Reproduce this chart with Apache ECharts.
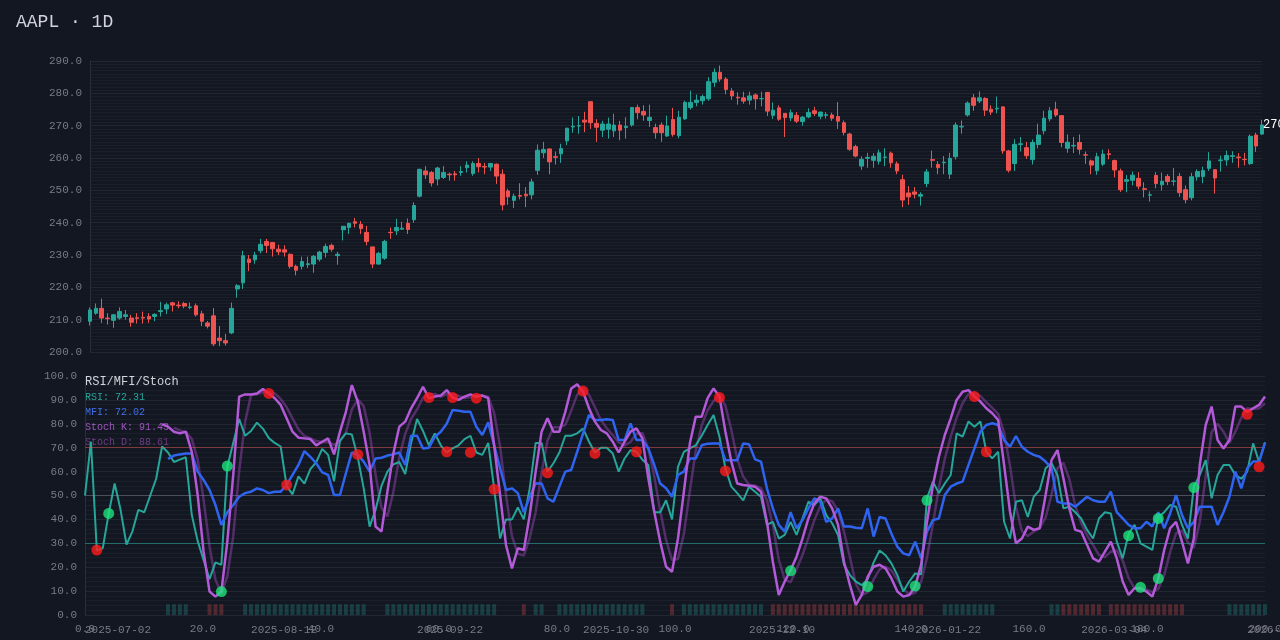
<!DOCTYPE html>
<html><head><meta charset="utf-8">
<script src="https://cdn.jsdelivr.net/npm/echarts@6/dist/echarts.min.js"></script>
<style>html,body{margin:0;padding:0;background:#131722}#c{width:1280px;height:640px}</style>
</head><body><div id="c"></div>
<script>
// [open, close, low, high]
const candles = [
[209.5,213,208.2,213.8],[212,213.5,211.5,215],[213.5,210.5,209,216.5],[210.5,210.3,208.5,212],[209.8,211.5,207.5,211.7],
[210.5,212.5,210,213.8],[211,211.5,210,213],[210.5,209.2,207.8,211.5],[210.6,210.4,208.8,212],[210.7,210.5,208.8,212.5],
[211,210.2,209,212],[211,211.6,209.5,212],[212.5,212.8,211,215.5],[213.3,214.6,211.7,215.3],[215.2,214.5,212.5,215.5],
[214.5,214.3,213.5,215.7],[215,214.2,213.5,215.5],[213.8,213.9,213.2,215.3],[214.3,211.5,211,215],[211.8,209.5,208,212.7],
[209,208,207.3,209.6],[211.2,202.5,201.8,213.6],[204.3,203.5,201.8,208],[203.5,202.8,202,205.6],[205.9,213.5,205.5,215.3],
[219.5,220.5,216.8,221],[221.4,229.8,219.5,231.3],[228.7,227.7,225,230],[228.5,230,227.3,231],[231.3,233.3,230.5,235],
[234.2,232.9,230.6,235],[233.9,231.9,229.5,234],[231.8,231,230,233.2],[231.6,230.9,229.5,233],[230.2,226.5,225.8,230.5],
[226.5,225.3,223.7,227],[226.5,228,225.5,229.5],[227,227.3,226,229.5],[227.2,229.6,224.5,230],[228.7,230.9,228,231.3],
[230.8,232.6,229.2,233.5],[233,231.8,231,233.5],[229.8,230.2,227,231],[237.8,238.9,234.5,238.9],[238.5,239.8,236.5,240],
[240.3,239.8,238.5,241.5],[239.5,238.2,236.5,240.5],[237,234.2,233,239],[232.5,227.2,226,232.5],[227.2,230.5,227,231],
[229,234.2,228.5,234.7],[237,236.9,235,238.5],[237.5,238.5,236.2,241.2],[238,238.3,237.8,240.3],[239.8,237.9,236.5,241.3],
[240.9,245.3,240,246.3],[248.2,256.5,247.8,256.7],[256,254.8,253.5,257.5],[255.5,252.3,251.2,256],[253.5,256.9,251.5,257.3],
[254,255.5,253.5,257.5],[255,254.8,253,255.5],[255.1,254.8,253,256],[255.5,255.8,254.5,257.5],[257,257.8,255.5,259],
[255.2,258.3,254.5,259],[258.3,257.3,255.5,260],[257.4,257.2,255,258.5],[257.2,258.3,256,258.5],[258.1,254.4,252,258.3],
[255,245.5,243.8,256.5],[249.8,248,245.5,250.5],[246.9,248.2,244.5,249],[248.4,248.2,247.2,252.2],[248.8,248.3,244.8,251],
[248.6,252.6,247.2,253.6],[256.2,262.4,254.8,264.2],[261.6,262.6,260,265],[262.8,258.8,255,262.9],[260.4,260.2,258,262],
[261.3,262.9,258.5,264.4],[265.3,269.2,264,269.4],[269.6,269.8,267.8,272.5],[269.9,270,267.5,273],[271.7,271.1,268,274.3],
[277.4,270.9,269,277.6],[270.7,269.5,265,272],[268.6,270.5,266.5,271.5],[268.9,270.5,266,272.5],[268.4,270.2,266.5,273.7],
[270.2,268.6,265.5,271.5],[269.4,269.8,266,272.6],[270.2,275.6,269.7,275.6],[275.6,274,272,276.5],[274.4,273.3,271.5,276.3],
[271.6,272.6,269.6,276.5],[269.4,267.8,266,270.6],[270.2,267.8,265,271],[266.8,269.9,266.5,273.1],[271.9,267.3,266.6,275.5],
[266.9,272.6,266.1,274.6],[272.1,277.2,271.8,277.7],[275.6,277.2,275,280.8],[277.2,277.9,276,279.6],[277.7,279,276.5,279.6],
[278.3,283.6,277.7,285],[283.4,286.5,282,287.7],[286.5,284.4,283.6,288.6],[284.4,281.2,279.7,285],[280.7,279.2,278,281.6],
[278.8,278.6,276.5,280.3],[278.6,277.6,276.8,280.5],[277.9,279.2,276.5,280.5],[279.5,278.3,275,280],[278.3,278.4,276,280.5],
[280.3,274.5,273,280.4],[273.2,274.8,272.1,277.2],[275.5,272,271.5,276.3],[273.8,272.5,266.5,273.8],[272.4,274,271.4,275],
[273.2,271.4,270.8,274.2],[271.3,272.6,270,273],[272.7,274.1,272.3,275.4],[274.6,273.8,273,275.8],[272.9,274.2,272,274.3],
[273.2,273.4,272.2,274.2],[273.3,272.3,271.5,274],[272.8,271.4,269,277.3],[270.9,267.9,267,271.6],[267.4,262.7,262.2,267.8],
[263.5,260.6,260.2,264.1],[257.5,259.6,256.3,260.5],[259.9,260.2,257,261.6],[259.3,260.5,257,261.5],[259,261.6,258,262.6],
[260.2,260.3,257.5,263],[261.5,258.5,257,262],[258.2,256,255,258.9],[253.3,247,244.8,254.8],[249.2,248,245.5,251.3],
[249.5,248.8,247.5,251],[248.2,248.7,245.3,249.4],[252.1,255.7,251,256.6],[259.5,259.3,257,262.3],[258,257,255,259],
[258.5,258.7,255,260.6],[255,259.9,253.5,261.6],[260.4,270.2,259.5,271],[269.6,269.8,267.5,271.6],[273.3,277,272.8,277.5],
[278.6,276.3,274.6,279.8],[277.6,278.6,277,280.6],[278.4,274.8,273,278.8],[275.1,274.2,273.3,276.3],[275.2,275.4,273.8,279],
[275.8,262.2,261.3,276],[262.2,256.2,255.5,262.5],[258.3,264.2,256,265.8],[264.2,264.4,262,266.5],[263.2,260.7,259.7,265],
[259.5,264.8,258,265.7],[264.2,267.1,263,270.6],[268.4,272.3,267.3,274.6],[272.1,274.6,271.3,275.7],[275.1,273.3,272.7,277.4],
[273.1,264.8,263.3,273.3],[263,264.9,261.6,267.3],[263.7,263.9,261.5,266.5],[264.8,262.7,261.1,267.3],[261,260.9,258.2,262],
[259.1,257.8,255,259.5],[256.1,260.4,254.8,261.6],[258.1,261.2,257.5,262.6],[261.3,261.1,259.6,262.7],[259.2,256.3,254,259.5],
[256,250.2,249.5,256.7],[252.8,253.3,249.4,254.7],[253.1,254.7,251.5,255.8],[253.7,251.3,250.3,255.6],[250.5,250.3,247.8,252.5],
[248.5,248.6,246.5,249.7],[254.6,252.1,250.6,255.6],[251.7,252.8,249.9,255.5],[254.3,252.7,251.6,255],[252.8,252.9,251.4,256.9],
[254.3,249.3,248,255.4],[250.2,247.1,246,251.5],[247.7,254.2,246.9,255.4],[254.2,255.8,253,256.5],[254.3,256.1,252.2,257.3],
[256.8,259.1,256,261.8],[256.4,253.8,249,256.5],[259.2,259.4,255.8,260.7],[259.4,260.8,257.6,262.3],[260.5,260.7,258.5,262.1],
[260.3,260.1,257,261.5],[259.6,259.5,257.7,261.6],[258.3,266.7,257.8,267.3],[267.1,263.7,261.9,267.8],[267.4,270.2,267.2,271.8]
];
const rsi = [50,72.5,27,28,42.5,55,44,29.5,35,44,43,50,57,70.5,68,64,65,66,42,31,23,15,22,21,62,72,82,75,77,80.5,78,74,72,70.5,54,50.5,58,55,61,64,69.5,67,56,73,76,75.5,66,53,37,44,54,60,63,64,59,72,82,77,71,76,71,68,69.7,71,73.6,75,68,67,72,53,32,40,40,45,40,53,72,72,60,63.5,68,75,75,76,78,72.5,68,70,70,67.6,60,65.5,69,68.3,65,62.8,43,43,48,40,62,68.3,69.7,71,75,79.5,83.7,74.6,61.4,53.7,51,48,53.7,51.6,49.5,37.7,39,32,33.5,39,33.5,40.4,47.4,46,48.8,41.8,38.4,33.5,21,16.7,14,12.5,15,22,27,25,21.6,16.7,9.8,14,17.4,17,48.8,55.8,51,55,58.6,76,74.6,81,78.8,81,68.3,65.5,68.3,39,32,47.4,48,41,49.5,52.3,61.4,63.5,58.6,44.6,45.3,43,40.4,35.6,32,40.4,43,42.5,30.7,23.7,34,37.7,30,28.6,27.2,41,43,46,45.3,37.7,32,53.7,58.6,64.8,48.8,58.6,62.8,62.8,58.6,57,60,71.8,64,72.31];
const mfi = [null,null,null,null,null,null,null,null,null,null,null,null,null,null,65.3,66.7,67.2,67.6,67.6,60,56.5,52.3,46,37.7,43,46,49.5,51,51.6,53,52.3,51,51.6,51.6,54.4,58.6,62.8,68.6,66.2,63.5,59.7,58.6,50.2,50.2,59.3,68,67,64.2,60,65.5,65.8,66.7,67.2,68,62.8,75,75,69.7,70,74.6,76.7,80,85.8,85.5,85,85,78.8,75.3,80.6,71,61.4,52.3,53,51,43,49.5,55,55,48.8,47.4,53.7,60,60.7,68.3,76,83.7,81.6,81.6,81.9,81.6,73.2,73.2,80.2,73.2,73.2,69.7,62.8,55,53,49.5,58.6,60,65.5,65.5,71,71.7,71.8,71.8,64.8,64.8,64.8,71.8,71.4,65.1,64.2,53,44.6,37.7,34.9,43,36.3,39.7,44.6,48.8,47.4,39,40.4,44.6,37,37,36.5,36.3,44.6,32.8,41,40.4,34,28.6,25.8,25,30.7,23.7,34.9,39.7,40.4,50.2,53.7,55,55.8,62.8,69.7,76.7,79.5,80.2,79.5,73.2,70.4,74.9,70.4,68.3,67,66.2,64.2,61.4,47.4,46.7,46.7,45.3,47.4,49.5,48,47.4,47.4,51.6,43,40.4,37.7,36.3,36.3,39,37,43,36.3,42.5,50.2,41.8,36.3,39,45.3,45.3,45.3,37.7,43,49.5,60,53,61.4,64.2,64.2,72.02];
const stochK = [null,null,null,null,null,null,null,null,null,null,null,null,null,79.8,78.8,76.7,76,76.7,68.3,50.2,26.5,9.8,7.7,9.8,30.7,58.6,91.4,92.3,92.3,92.7,94.6,92.7,90.7,87.9,82.3,76.7,74.2,73.9,73.6,71,72.5,73.9,67.2,76.7,85,96.2,89.3,76.7,62.8,37,34.9,51.6,67.6,78.8,80.9,86.5,90.7,95.5,90.7,91.4,91.8,94.1,91,90,91.4,92.3,91.4,91.8,90.7,71,50.2,29.3,19.5,27.9,27.2,41.8,60,76.7,82.3,76.7,76.7,85,94.8,96.5,93.4,86.5,80.9,77.4,76,72.5,68,72.5,76.7,78.1,73.9,57.2,43.2,30.7,20.2,18.1,32,51.6,71.8,83,83,90.7,94.8,91.4,76.7,64.2,55,54.4,54.1,53.7,51.6,39,22.3,8.4,14,18.8,24.4,32,40.4,46.7,49.5,48.8,44.6,37.7,22.3,12.5,4.2,8.4,16,20.2,21,19.5,15.3,9.8,7.7,8.4,11.9,21,39,54.4,66.2,75.3,82.3,90,93.4,94.1,91.4,89.3,86.5,84.4,81.6,62.8,43.2,30,32,37,35.6,36.3,50.2,64.8,69,57.2,44.6,35.6,34.9,29.3,23.7,22.3,26.5,30.7,23.7,14,8.4,11.2,11.2,9.8,7.7,15.3,27.2,36.3,39,30.7,21.6,32,62.8,79.5,87.2,73.2,69.7,73.2,87.2,87.2,85,86.5,87.9,91.43];
const stochD = [null,null,null,null,null,null,null,null,null,null,null,null,null,null,null,78.4,77.2,76.5,73.7,65.1,48.3,28.8,14.7,9.1,16.1,33,60.2,80.8,92,92.4,93.2,93.3,92.7,90.4,87,82.3,77.7,74.9,73.9,72.8,72.4,72.5,71.2,72.6,76.3,86,90.2,87.4,76.3,58.8,44.9,41.2,51.4,66,75.8,82.1,86,90.9,92.3,92.5,91.3,92.4,92.3,91.7,90.8,91.2,91.7,91.8,91.3,84.5,70.6,50.2,33,25.6,24.9,32.3,43,59.5,73,78.6,78.6,79.5,85.5,92.1,94.9,92.1,86.9,81.6,78.1,75.3,72.2,71,72.4,75.8,76.2,69.7,58.1,43.7,31.4,23,23.4,33.9,51.8,68.8,79.3,85.6,89.5,92.3,87.6,77.4,65.3,57.9,54.5,54.1,53.1,48.1,37.6,23.2,14.9,13.7,19.1,25.1,32.3,39.7,45.5,48.3,47.6,43.7,34.9,24.2,13,8.4,9.5,14.9,19.1,20.2,18.6,14.9,10.9,8.6,9.3,13.8,24,38.1,53.2,65.3,74.6,82.5,88.6,92.5,93,91.6,89.1,86.7,84.2,76.3,62.5,45.3,35.1,33,34.9,36.3,40.7,50.4,61.3,63.7,56.9,45.8,38.4,33.3,29.3,25.1,24.2,26.5,27,22.8,15.4,11.2,10.3,10.7,9.6,10.9,16.7,26.3,34.2,35.3,30.4,28.1,38.8,58.1,76.5,80,76.7,72,76.7,82.5,86.5,86.2,86.5,88.61];
const sellSignals = [[2,27.2],[31,92.7],[34,54.4],[46,67.2],[58,91],[61,68.3],[62,91],[65,68],[66,90.7],[69,52.6],[78,59.5],[84,93.7],[86,67.6],[93,68.3],[107,91],[108,60.3],[150,91.4],[152,68.3],[196,84],[198,62]];
const buySignals = [[4,42.5],[23,9.8],[24,62.3],[119,18.5],[132,11.9],[140,12.1],[142,48],[176,33.2],[178,11.6],[181,15.3],[181,40.4],[187,53.3]];
// [start, end, state] 1 = bullish, -1 = bearish
const stateRanges = [[14,17,1],[21,23,-1],[27,47,1],[51,69,1],[74,74,-1],[76,77,1],[80,94,1],[99,99,-1],[101,114,1],[116,141,-1],[145,153,1],[163,164,1],[165,171,-1],[173,185,-1],[193,199,1]];
const priceTicks = {min:200,max:290,interval:10};
const holidays = ['2025-07-04','2025-09-01','2025-11-27','2025-12-25','2026-01-01','2026-01-19','2026-02-16','2026-04-03'];

const dates = [];
{ let d = new Date(Date.UTC(2025,6,2));
  while (dates.length < candles.length) {
    const s = d.toISOString().slice(0,10), wd = d.getUTCDay();
    if (wd !== 0 && wd !== 6 && !holidays.includes(s)) dates.push(s);
    d.setUTCDate(d.getUTCDate()+1);
  } }
const stateData = dates.map(()=>null);
stateRanges.forEach(([a,b,s])=>{for(let i=a;i<=b;i++) stateData[i]={value:4.5,itemStyle:{color:s>0?'rgba(38,166,154,0.28)':'rgba(239,83,80,0.28)'}};});

const mono = '"Courier New", "Liberation Mono", monospace';
const axisLbl = {color:'#787b86', fontFamily:mono, fontSize:11};
const last = candles[candles.length-1];
const chart = echarts.init(document.getElementById('c'));
chart.setOption({
  backgroundColor:'#131722',
  animation:false,
  title:{text:'AAPL · 1D', left:11, top:8, textStyle:{color:'#d1d4dc', fontFamily:mono, fontSize:18, fontWeight:'normal'}},
  graphic:[
    {type:'text', left:85, top:376, style:{text:'RSI/MFI/Stoch', fill:'#d1d4dc', font:'12px '+mono}},
    {type:'text', left:85, top:392, style:{text:'RSI: 72.31', fill:'#26a69a', font:'10px '+mono}},
    {type:'text', left:85, top:407, style:{text:'MFI: 72.02', fill:'#3d6ee8', font:'10px '+mono}},
    {type:'text', left:85, top:422, style:{text:'Stoch K: 91.43', fill:'#9c52bd', font:'10px '+mono}},
    {type:'text', left:85, top:437, style:{text:'Stoch D: 88.61', fill:'#6e3a84', font:'10px '+mono}}
  ],
  grid:[
    {left:90, right:18, top:61, height:291, outerBoundsMode:'none'},
    {left:85, right:15, top:376, bottom:25, outerBoundsMode:'none'}
  ],
  xAxis:[
    {type:'category', gridIndex:0, data:dates, boundaryGap:false, axisLine:{show:false}, axisTick:{show:false}, axisLabel:{show:false}, splitLine:{show:false}},
    {type:'category', gridIndex:1, data:dates, boundaryGap:false, axisLine:{show:false}, axisTick:{show:false},
      axisLabel:Object.assign({interval:27, align:'left', margin:10}, axisLbl), splitLine:{show:false}},
    {type:'value', gridIndex:1, min:0, max:200, interval:20, position:'bottom', axisLine:{show:false}, axisTick:{show:false},
      axisLabel:Object.assign({formatter:v=>v.toFixed(1), margin:9}, axisLbl), splitLine:{show:false}}
  ],
  yAxis:[
    {type:'value', gridIndex:0, min:priceTicks.min, max:priceTicks.max, interval:priceTicks.interval,
      axisLine:{show:true, lineStyle:{color:'#2a2e39'}}, axisTick:{show:false},
      axisLabel:Object.assign({formatter:v=>v.toFixed(1)}, axisLbl),
      splitLine:{lineStyle:{color:'rgba(255,255,255,0.07)'}},
      minorTick:{show:false, splitNumber:10}, minorSplitLine:{show:true, lineStyle:{color:'rgba(255,255,255,0.035)'}}},
    {type:'value', gridIndex:1, min:0, max:100, interval:10,
      axisLine:{show:true, lineStyle:{color:'#2a2e39'}}, axisTick:{show:false},
      axisLabel:Object.assign({formatter:v=>v.toFixed(1)}, axisLbl),
      splitLine:{lineStyle:{color:'rgba(255,255,255,0.07)'}},
      minorTick:{show:false, splitNumber:5}, minorSplitLine:{show:true, lineStyle:{color:'rgba(255,255,255,0.035)'}}}
  ],
  series:[
    {type:'candlestick', xAxisIndex:0, yAxisIndex:0, data:candles, barWidth:'70%',
      itemStyle:{color:'#26a69a', color0:'#ef5350', borderColor:'#26a69a', borderColor0:'#ef5350'}},
    {type:'bar', xAxisIndex:1, yAxisIndex:1, data:stateData, barWidth:4, silent:true},
    {type:'line', xAxisIndex:1, yAxisIndex:1, data:stochD, showSymbol:false, lineStyle:{color:'rgba(125,60,150,0.6)', width:2.5}, z:3},
    {type:'line', xAxisIndex:1, yAxisIndex:1, data:rsi, showSymbol:false, lineStyle:{color:'#26a69a', width:2}, z:4,
      markLine:{silent:true, symbol:'none', label:{show:false}, data:[
        {yAxis:70, lineStyle:{color:'rgba(239,83,80,0.45)', type:'solid', width:1}},
        {yAxis:50, lineStyle:{color:'rgba(150,155,165,0.35)', type:'solid', width:1}},
        {yAxis:30, lineStyle:{color:'rgba(38,166,154,0.55)', type:'solid', width:1}}]}},
    {type:'line', xAxisIndex:1, yAxisIndex:1, data:mfi, showSymbol:false, lineStyle:{color:'#2f64f0', width:2.5}, z:5},
    {type:'line', xAxisIndex:1, yAxisIndex:1, data:stochK, showSymbol:false, lineStyle:{color:'#b45ad8', width:2.5}, z:6},
    {type:'scatter', xAxisIndex:1, yAxisIndex:1, data:sellSignals, symbolSize:11, itemStyle:{color:'#ff1a1a'}, z:10},
    {type:'scatter', xAxisIndex:1, yAxisIndex:1, data:buySignals, symbolSize:11, itemStyle:{color:'#1de27a'}, z:10}
  ]
});
// last-price tag, positioned through the chart's own scales
const pt = chart.convertToPixel({xAxisIndex:0, yAxisIndex:0}, [dates.length-1, last[1]]);
chart.setOption({graphic:[{type:'text', id:'lastPrice', x:pt[0]+1, y:pt[1], style:{text:last[1].toFixed(2), fill:'#ffffff', font:'12px '+mono, verticalAlign:'middle'}, z:100}]});
</script></body></html>
